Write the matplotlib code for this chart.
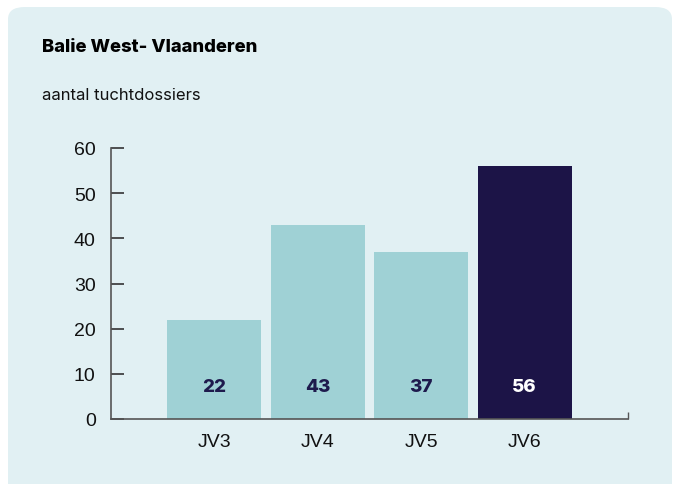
import matplotlib.pyplot as plt
from matplotlib.patches import FancyBboxPatch

categories = ["JV3", "JV4", "JV5", "JV6"]
values = [22, 43, 37, 56]
bar_colors = ["#9fd1d5", "#9fd1d5", "#9fd1d5", "#1c1447"]
label_colors = ["#1e1a4d", "#1e1a4d", "#1e1a4d", "#ffffff"]
yticks = [0, 10, 20, 30, 40, 50, 60]

W, H = 673, 485
fig = plt.figure(figsize=(W / 100, H / 100), dpi=100)
fig.patch.set_facecolor("white")

# rounded background panel (pixel coords -> figure fraction)
panel = FancyBboxPatch((8 / W, -20 / H), (664 / W), (497 / H),
                       boxstyle="round,pad=0,rounding_size=0.025",
                       transform=fig.transFigure, facecolor="#e1f0f3",
                       edgecolor="none", zorder=-5)
fig.patches.append(panel)

fig.text(42 / W, 1 - 47 / H, "Balie West- Vlaanderen", fontsize=13.3,
         fontweight="heavy", family=["Inter", "DejaVu Sans"], va="center", ha="left")
fig.text(42 / W, 1 - 95 / H, "aantal tuchtdossiers", fontsize=12,
         family=["Inter", "DejaVu Sans"], va="center", ha="left", color="#111111")

# axes: x 111..628 px, y 149..420 px
ax = fig.add_axes([111 / W, 1 - 420 / H, (628 - 111) / W, (420 - 149) / H])
ax.set_facecolor("none")

x = list(range(len(categories)))
ax.bar(x, values, width=0.91, color=bar_colors, zorder=2)
for xi, v, c in zip(x, values, label_colors):
    ax.text(xi, 7.3, str(v), ha="center", va="center", fontsize=13.5,
            fontweight="heavy", color=c, family=["Inter", "DejaVu Sans"], zorder=3)

ax.set_xlim(-1, 4)
ax.set_ylim(0, 60)
ax.set_xticks(x)
ax.set_xticklabels(categories)
ax.set_yticks(yticks)
ax.set_xticks([4], minor=True)

for s in ["top", "right"]:
    ax.spines[s].set_visible(False)
for s in ["left", "bottom"]:
    ax.spines[s].set_color("#555555")
    ax.spines[s].set_linewidth(1.2)

ax.tick_params(axis="y", direction="in", length=9, width=1.2, color="#333333",
               labelsize=14, pad=11)
ax.tick_params(axis="x", which="major", length=0, labelsize=14, pad=10)
ax.tick_params(axis="x", which="minor", direction="in", length=5, width=1,
               color="#555555")
for lab in ax.get_xticklabels() + ax.get_yticklabels():
    lab.set_family(["Liberation Sans", "DejaVu Sans"])
    lab.set_color("#111111")

fig.savefig("out.png", dpi=100, facecolor=fig.get_facecolor())
